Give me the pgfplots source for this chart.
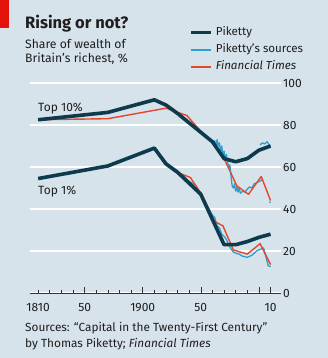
\documentclass[border=0pt]{standalone}
\usepackage{pgfplots}
\pgfplotsset{compat=1.18}
\usepackage{fontspec}
\setmainfont{Fira Sans}
\definecolor{bg}{HTML}{D7E3EA}
\definecolor{pik}{HTML}{0E3A4E}
\definecolor{src}{HTML}{2A9FD1}
\definecolor{ft}{HTML}{E4472A}
\definecolor{econred}{HTML}{E3120B}
\definecolor{axisgrey}{HTML}{333333}
\definecolor{txt}{HTML}{1E1E1E}

\pgfplotstableread{
year val
1810 82.5
1870 86
1910 92
1920 89.5
1930 85.5
1950 76.5
1960 72
1970 64
1980 62.5
1990 64
2000 68
2010 70
}\piktenT
\pgfplotstableread{
year val
1810 54.5
1870 60.5
1910 69
1920 61.5
1930 57.5
1950 47
1960 35
1970 23
1980 23
1990 24.5
2000 26.5
2010 28
}\pikoneT
\pgfplotstableread{
year val
1810 82.5
1870 83
1920 88
1938 84.5
1950 77
1960 71.5
1970 64
1976 57
1981 51
1991 47
2002 55.5
2010 44
}\fttenT
\pgfplotstableread{
year val
1810 54.5
1870 60.5
1910 69
1924 59.5
1929 57.6
1941 55
1950 47.5
1962 34
1969 32
1978 20.5
1990 18.5
2001 23.5
2010 13.5
}\ftoneT
\pgfplotstableread{
year val
1960 72.5
1961 70.5
1962 72.5
1963 69.5
1964 73
1965 70
1966 71.5
1967 67.5
1968 70
1969 65.5
1970 67.5
1971 63.5
1972 66
1973 62.5
1974 59.5
1975 61
1976 55.5
1977 51
1978 50
1979 52
1980 48.5
1981 50.5
1982 48
1983 50
1984 47.5
1986 48.5
1988 48
1990 49.5
1992 50.5
1994 50
1996 52
1998 52.5
2000 53
2003 54
}\srctenA
\pgfplotstableread{
year val
2001 70.5
2003 71.5
2005 71
2007 72
2009 70.5
2010 70
}\srctenB
\pgfplotstableread{
year val
2009 43.5
2010 43
}\srctenC
\pgfplotstableread{
year val
1923 60
1926 58.5
1930 57
1936 55.5
1938 54
1946 51
1950 47
1955 42
1960 37
1962 36
1964 32
1966 31
1968 28
1970 27
1972 25.5
1974 23
1976 21
1978 19.5
1980 19
1983 18.5
1986 17.5
1990 17
1994 18
1998 20
2002 21
2004 21.5
2008 13
2010 12.5
}\srconeT

\begin{document}
\begin{tikzpicture}
\fill[bg] (0bp,0bp) rectangle (328bp,358bp);
\path[use as bounding box] (0bp,0bp) rectangle (328bp,358bp);
\fill[econred] (0bp,330bp) rectangle (9bp,358bp);
\node[anchor=base west, inner sep=0pt, text=txt, font=\fontsize{16.5bp}{19bp}\selectfont\bfseries] at (25bp,329bp) {Rising or not?};
\node[anchor=base west, inner sep=0pt, text=txt, font=\fontsize{12.2bp}{14bp}\selectfont] at (25bp,309bp) {Share of wealth of};
\node[anchor=base west, inner sep=0pt, text=txt, font=\fontsize{12.2bp}{14bp}\selectfont] at (25bp,295bp) {Britain’s richest, \%};
\node[anchor=base west, inner sep=0pt, text=txt, font=\fontsize{11.8bp}{13bp}\selectfont] at (25bp,27bp) {Sources: “Capital in the Twenty-First Century”};
\node[anchor=base west, inner sep=0pt, text=txt, font=\fontsize{11.8bp}{13bp}\selectfont] at (25bp,11bp) {by Thomas Piketty; \textit{Financial Times}};
\begin{axis}[
  at={(30bp,65bp)}, anchor=south west,
  scale only axis, width=251bp, height=210bp,
  xmin=1803, xmax=2019, ymin=0, ymax=100,
  clip=false,
  /pgf/number format/assume math mode=true,
  axis x line*=bottom, axis y line*=right,
  y axis line style={draw=none},
  x axis line style={axisgrey, line width=0.6bp},
  ytick={0,20,40,60,80,100},
  ytick style={draw=none},
  ymajorgrids, grid style={white, line width=1.3bp},
  yticklabel style={anchor=west, inner sep=0pt, xshift=2bp, text=txt, font=\fontsize{12bp}{13bp}\selectfont},
  xtick={1810,1850,1900,1950,2010},
  xticklabels={\textrm{1810},\textrm{50},\textrm{1900},\textrm{50},\textrm{10}},
  xtick align=inside,
  major tick length=3bp, minor tick length=3bp,
  minor xtick={1820,1830,1840,1860,1870,1880,1890,1910,1920,1930,1940,1960,1970,1980,1990,2000},
  extra x ticks={1850,1900,1950,2000,2010},
  extra x tick labels={},
  extra x tick style={major tick length=6bp},
  x tick style={axisgrey, line width=0.6bp},
  xticklabel style={anchor=north, inner sep=0pt, yshift=-10bp, text=txt, font=\fontsize{12bp}{13bp}\selectfont},
  legend style={draw=none, fill=none, at={(0.6215,1.275)}, anchor=north west,
     font=\fontsize{11.6bp}{13bp}\selectfont, text=txt, row sep=6.5bp,
     nodes={inner sep=0pt, text height=8bp, text depth=2.5bp}, column sep=3bp},
  legend cell align=left,
  legend image code/.code={\draw[#1] (0bp,0bp) -- (20bp,0bp);},
]
\addlegendimage{pik, line width=3.6bp}
\addlegendentry{Piketty}
\addlegendimage{src, line width=1.7bp}
\addlegendentry{Piketty’s sources}
\addlegendimage{ft, line width=1.7bp}
\addlegendentry{\textit{Financial Times}}
\addplot[forget plot, src, line width=1.3bp, line join=round] table[x=year,y=val] {\srctenA};
\addplot[forget plot, src, line width=1.3bp, line join=round] table[x=year,y=val] {\srctenB};
\addplot[forget plot, src, line width=1.3bp, line join=round] table[x=year,y=val] {\srctenC};
\addplot[forget plot, src, line width=1.3bp, line join=round] table[x=year,y=val] {\srconeT};
\addplot[forget plot, ft, line width=1.4bp, line join=round] table[x=year,y=val] {\fttenT};
\addplot[forget plot, ft, line width=1.4bp, line join=round] table[x=year,y=val] {\ftoneT};
\addplot[forget plot, pik, line width=3.6bp, line join=round] table[x=year,y=val] {\piktenT};
\addplot[forget plot, pik, line width=3.6bp, line join=round] table[x=year,y=val] {\pikoneT};
\end{axis}
\node[anchor=base west, inner sep=0pt, text=txt, font=\fontsize{12bp}{13bp}\selectfont] at (38bp,246bp) {Top 10\%};
\node[anchor=base west, inner sep=0pt, text=txt, font=\fontsize{12bp}{13bp}\selectfont] at (38bp,163bp) {Top 1\%};
\end{tikzpicture}
\end{document}
